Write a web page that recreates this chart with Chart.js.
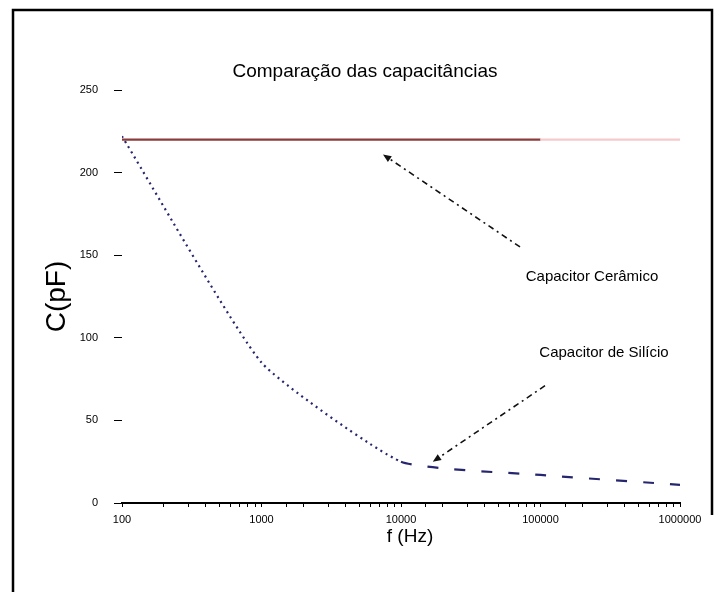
<!DOCTYPE html>
<html>
<head>
<meta charset="utf-8">
<script src="https://cdn.jsdelivr.net/npm/chart.js@4.4.1/dist/chart.umd.min.js"></script>
<style>
  html, body { margin: 0; padding: 0; background: #ffffff; }
  #c { display: block; }
</style>
</head>
<body>
<canvas id="c" width="727" height="592"></canvas>
<script>
// Frequencies (Hz) and measured capacitances (pF)
const freqs = [100, 1000, 10000, 100000, 1000000];
const ceramic = [220, 220, 220, 220, 220];
const silicon = [222, 85, 25, 17, 11];

// Axis ticks
const yMin = 0, yMax = 250, yStep = 50;
const xMin = 100, xMax = 1000000;

// Text
const chartTitle = 'Comparação das capacitâncias';
const yTitle = 'C(pF)';
const xTitle = 'f (Hz)';

// Callouts: label anchor and arrow (tail -> head), in data units
const callouts = [
  { text: 'Capacitor Cerâmico', label: [234000, 137], tail: [71300, 155], head: [7430, 211] },
  { text: 'Capacitor de Silício', label: [285000, 91], tail: [107700, 71], head: [16900, 25] }
];

const FONT = '"Liberation Sans", Arial, sans-serif';

const decor = {
  id: 'decor',
  afterDraw(chart) {
    const ctx = chart.ctx;
    const xs = chart.scales.x, ys = chart.scales.y;
    const area = chart.chartArea;
    ctx.save();

    // page frame
    ctx.strokeStyle = '#000';
    ctx.lineWidth = 2.5;
    ctx.beginPath();
    ctx.moveTo(13, 592);
    ctx.lineTo(13, 10);
    ctx.lineTo(712, 10);
    ctx.lineTo(712, 515);
    ctx.stroke();

    // title
    ctx.fillStyle = '#000';
    ctx.textAlign = 'center';
    ctx.textBaseline = 'middle';
    ctx.font = '19px ' + FONT;
    ctx.fillText(chartTitle, 365, 72);

    // axis titles
    ctx.font = '19px ' + FONT;
    ctx.fillText(xTitle, (area.left + area.right) / 2 + 9, 537);
    ctx.save();
    ctx.translate(57, (area.top + area.bottom) / 2);
    ctx.rotate(-Math.PI / 2);
    ctx.font = '28px ' + FONT;
    ctx.fillText(yTitle, 0, 0);
    ctx.restore();

    // callouts
    callouts.forEach(c => {
      const tx = xs.getPixelForValue(c.tail[0]), ty = ys.getPixelForValue(c.tail[1]);
      const hx = xs.getPixelForValue(c.head[0]), hy = ys.getPixelForValue(c.head[1]);
      const ang = Math.atan2(hy - ty, hx - tx);
      const ah = 9;
      ctx.strokeStyle = '#111';
      ctx.lineWidth = 1.6;
      ctx.setLineDash([6, 4, 2, 4]);
      ctx.beginPath();
      ctx.moveTo(tx, ty);
      ctx.lineTo(hx - Math.cos(ang) * ah * 0.8, hy - Math.sin(ang) * ah * 0.8);
      ctx.stroke();
      ctx.setLineDash([]);
      ctx.fillStyle = '#111';
      ctx.beginPath();
      ctx.moveTo(hx, hy);
      ctx.lineTo(hx - ah * Math.cos(ang - 0.4), hy - ah * Math.sin(ang - 0.4));
      ctx.lineTo(hx - ah * Math.cos(ang + 0.4), hy - ah * Math.sin(ang + 0.4));
      ctx.closePath();
      ctx.fill();

      ctx.fillStyle = '#000';
      ctx.font = '15px ' + FONT;
      ctx.textAlign = 'center';
      ctx.textBaseline = 'middle';
      ctx.fillText(c.text, xs.getPixelForValue(c.label[0]), ys.getPixelForValue(c.label[1]));
    });
    ctx.restore();
  }
};

const toPoints = arr => freqs.map((f, i) => ({ x: f, y: arr[i] }));

new Chart(document.getElementById('c'), {
  type: 'line',
  data: {
    datasets: [
      {
        label: 'Capacitor Cerâmico',
        data: toPoints(ceramic),
        borderWidth: 2.2,
        pointRadius: 0,
        borderColor: '#8c3b3b',
        segment: {
          borderColor: ctx => ctx.p0DataIndex >= 3 ? '#f6c9cd' : '#8c3b3b'
        }
      },
      {
        label: 'Capacitor de Silício',
        data: toPoints(silicon),
        borderWidth: 2.2,
        pointRadius: 0,
        borderColor: '#26266e',
        tension: 0.15,
        segment: {
          borderDash: ctx => ctx.p0DataIndex >= 2 ? [11, 16] : [2, 4]
        }
      }
    ]
  },
  options: {
    responsive: false,
    animation: false,
    devicePixelRatio: 1,
    layout: { padding: { left: 0, right: 47, top: 90, bottom: 0 } },
    plugins: {
      legend: { display: false },
      title: { display: false },
      tooltip: { enabled: false }
    },
    scales: {
      x: {
        type: 'logarithmic',
        min: xMin,
        max: xMax,
        afterFit: s => { s.height = 89; },
        border: { display: true, color: '#000', width: 2 },
        grid: { drawOnChartArea: false, drawTicks: true, tickLength: 4, color: '#000' },
        ticks: {
          autoSkip: false,
          maxRotation: 0,
          padding: 6,
          color: '#000',
          font: { family: FONT, size: 11 },
          callback: v => {
            const l = Math.log10(v);
            return Math.abs(l - Math.round(l)) < 1e-9 ? String(v) : '';
          }
        }
      },
      y: {
        min: yMin,
        max: yMax,
        afterFit: s => { s.width = 122; },
        border: { display: false },
        grid: { drawOnChartArea: false, drawTicks: true, tickLength: 8, color: '#000' },
        ticks: {
          stepSize: yStep,
          padding: 16,
          color: '#000',
          font: { family: FONT, size: 11 }
        }
      }
    }
  },
  plugins: [decor]
});
</script>
</body>
</html>
